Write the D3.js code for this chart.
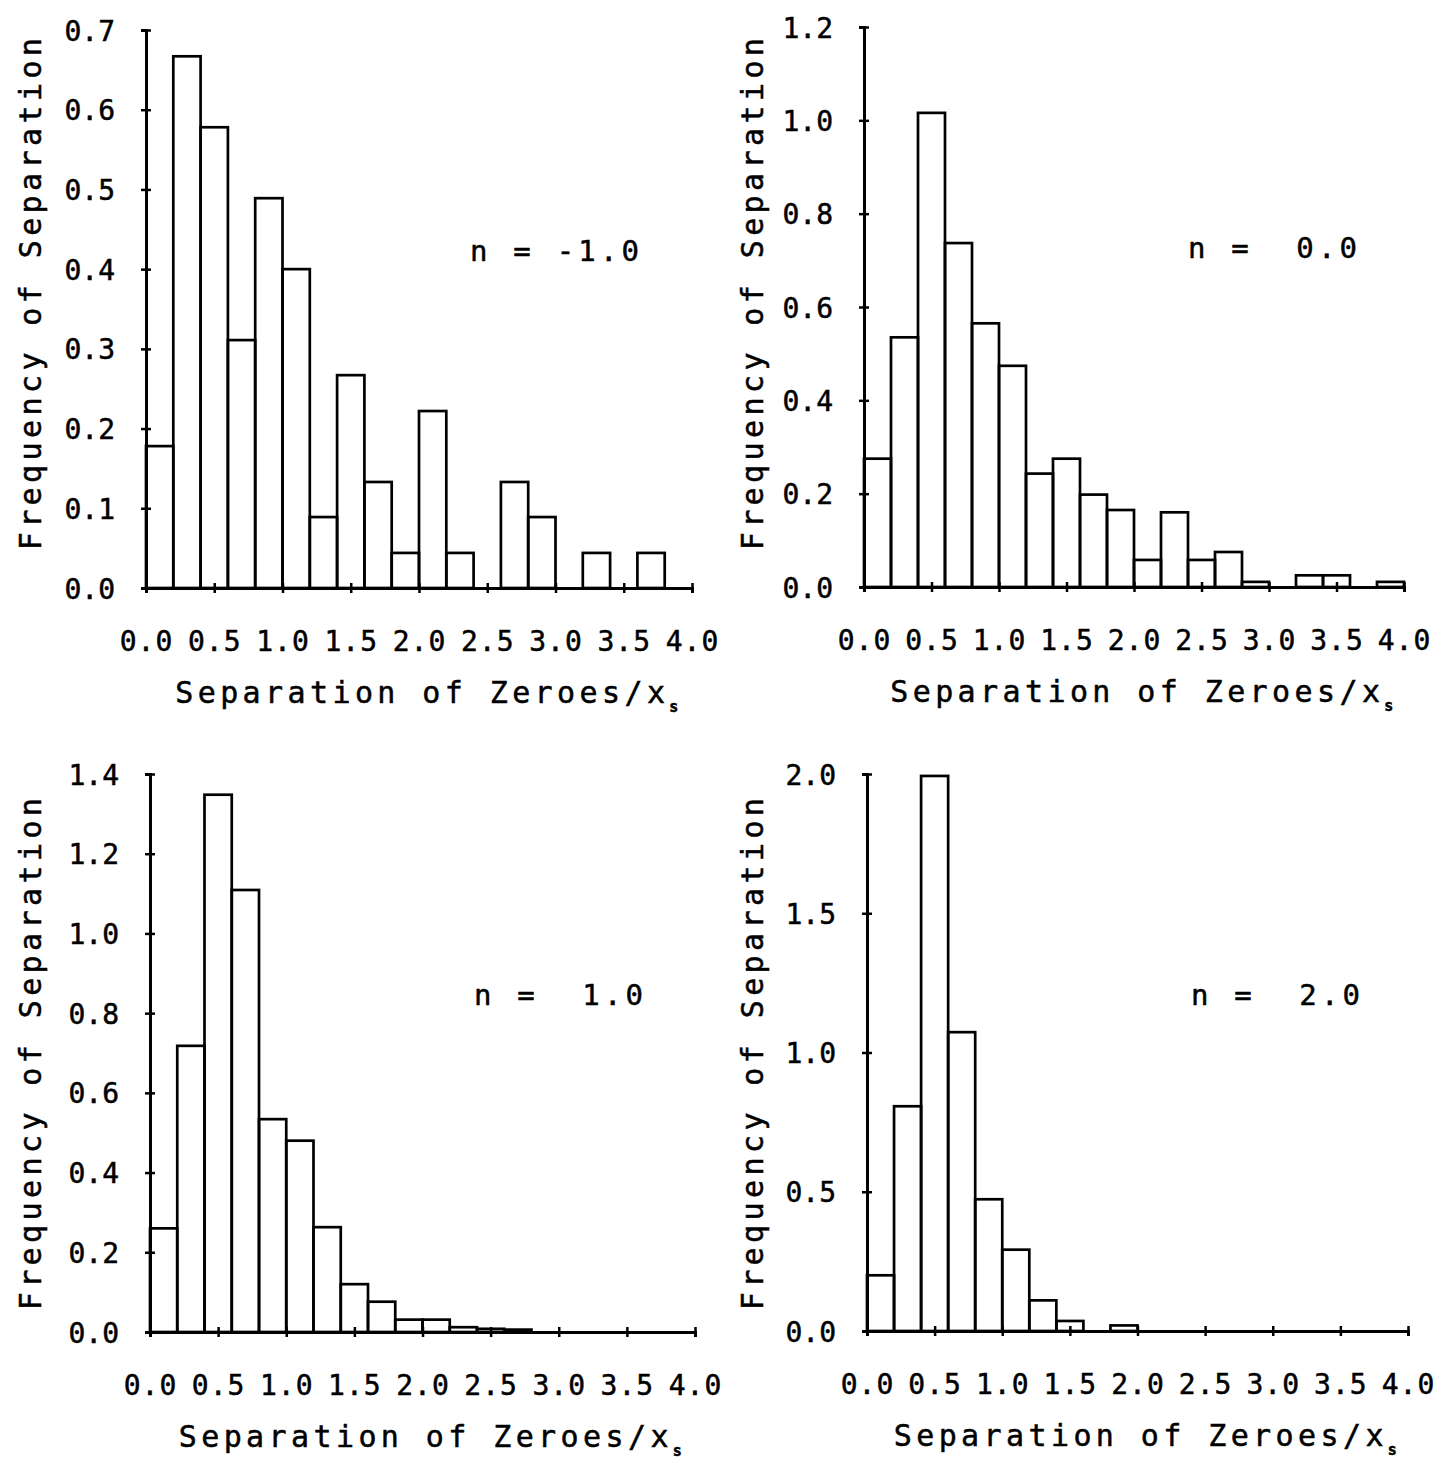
<!DOCTYPE html>
<html><head><meta charset="utf-8">
<script src="https://cdn.jsdelivr.net/npm/d3@7"></script>
<style>body{margin:0;background:#fff}svg{display:block}text{stroke:#000;stroke-width:0.5px}</style>
</head><body>
<svg id="chart" width="1445" height="1470"></svg>
<script>
// ---------- data ----------
const binStarts = [0.0,0.2,0.4,0.6,0.8,1.0,1.2,1.4,1.6,1.8,2.0,2.2,2.4,2.6,2.8,3.0,3.2,3.4,3.6,3.8];
const binWidth = 0.2;
const freqNm1 = [0.178,0.667,0.578,0.311,0.489,0.400,0.089,0.267,0.133,0.044,0.222,0.044,0,0.133,0.089,0,0.044,0,0.044,0];
const freqN0  = [0.275,0.535,1.016,0.737,0.565,0.474,0.243,0.275,0.198,0.165,0.058,0.160,0.058,0.075,0.011,0,0.025,0.025,0,0.011];
const freqN1  = [0.260,0.718,1.348,1.109,0.534,0.480,0.263,0.120,0.076,0.031,0.031,0.012,0.008,0.006,0,0,0,0,0,0];
const freqN2  = [0.200,0.807,1.993,1.073,0.473,0.292,0.110,0.036,0,0.020,0,0,0,0,0,0,0,0,0,0];
const panelLabels = ["n = -1.0","n =  0.0","n =  1.0","n =  2.0"];
const yMaxes = [0.7,1.2,1.4,2.0];
const yTicksNm1 = [0.0,0.1,0.2,0.3,0.4,0.5,0.6,0.7];
const yTicksN0  = [0.0,0.2,0.4,0.6,0.8,1.0,1.2];
const yTicksN1  = [0.0,0.2,0.4,0.6,0.8,1.0,1.2,1.4];
const yTicksN2  = [0.0,0.5,1.0,1.5,2.0];
const xTicks = [0.0,0.5,1.0,1.5,2.0,2.5,3.0,3.5,4.0];
const xMax = 4.0;
const yTitle = "Frequency of Separation";
const xTitle = "Separation of Zeroes/x";
const xTitleSub = "s";

// ---------- layout ----------
const layout = [
  {x0:146, x1:692,  yb:588,  yt:30,  tx:30,  ty:292},
  {x0:864, x1:1404, yb:587,  yt:27,  tx:752, ty:292},
  {x0:150, x1:695,  yb:1332, yt:774, tx:30,  ty:1052},
  {x0:867, x1:1408, yb:1331, yt:774, tx:752, ty:1052}
];
const series = [freqNm1, freqN0, freqN1, freqN2];
const yTickSets = [yTicksNm1, yTicksN0, yTicksN1, yTicksN2];
const FONT = "'DejaVu Sans Mono', monospace";

const svg = d3.select("#chart");
svg.append("rect").attr("width",1445).attr("height",1470).attr("fill","#fff");

layout.forEach((L, i) => {
  const x = d3.scaleLinear().domain([0, xMax]).range([L.x0, L.x1]);
  const y = d3.scaleLinear().domain([0, yMaxes[i]]).range([L.yb, L.yt]);
  const g = svg.append("g");

  // bars (outlined histogram)
  const data = binStarts.map((b, k) => ({x: b, v: series[i][k]})).filter(d => d.v > 0);
  g.append("g").selectAll("rect").data(data).join("rect")
    .attr("x", d => x(d.x))
    .attr("width", d => x(d.x + binWidth) - x(d.x))
    .attr("y", d => y(d.v))
    .attr("height", d => y(0) - y(d.v))
    .attr("fill", "none")
    .attr("stroke", "#000")
    .attr("stroke-width", 2.7);

  // y axis
  const ya = g.append("g").attr("transform", `translate(${L.x0},0)`)
    .call(d3.axisLeft(y).tickValues(yTickSets[i]).tickFormat(d3.format(".1f")).tickSizeOuter(0).tickSize(5).tickPadding(26));
  ya.select(".domain").attr("stroke-width", 3);
  ya.selectAll(".tick line").attr("x1", -5).attr("x2", 5).attr("stroke-width", 2.5);
  ya.selectAll(".tick text").attr("font-family", FONT).attr("font-size", 28).attr("fill", "#000").attr("dy", "0.36em");

  // x axis
  const xa = g.append("g").attr("transform", `translate(0,${L.yb})`)
    .call(d3.axisBottom(x).tickValues(xTicks).tickFormat(d3.format(".1f")).tickSizeOuter(0).tickSize(5));
  xa.select(".domain").attr("stroke-width", 3);
  xa.selectAll(".tick line").attr("y1", -5).attr("y2", 5).attr("stroke-width", 2.5);
  xa.selectAll(".tick text").attr("font-family", FONT).attr("font-size", 28).attr("fill", "#000")
    .attr("y", 63).attr("dy", 0).attr("letter-spacing", 1);

  // y title
  g.append("text")
    .attr("transform", `translate(${L.tx + 11},${L.ty}) rotate(-90)`)
    .attr("text-anchor", "middle")
    .attr("font-family", FONT).attr("font-size", 30).attr("letter-spacing", 4.4)
    .text(yTitle);

  // x title
  const xt = g.append("text")
    .attr("x", (L.x0 + L.x1) / 2 + 10).attr("y", L.yb + 115)
    .attr("text-anchor", "middle")
    .attr("font-family", FONT).attr("font-size", 30).attr("letter-spacing", 4.4);
  xt.append("tspan").text(xTitle);
  xt.append("tspan").attr("font-size", 15).attr("dy", 9).attr("font-weight", "bold").text(xTitleSub);

  // annotation
  g.append("text")
    .attr("x", L.x0 + 324).attr("y", L.yt + 231)
    .attr("font-family", FONT).attr("font-size", 29).attr("letter-spacing", 4.2)
    .style("white-space", "pre")
    .text(panelLabels[i]);
});
</script>
</body></html>
